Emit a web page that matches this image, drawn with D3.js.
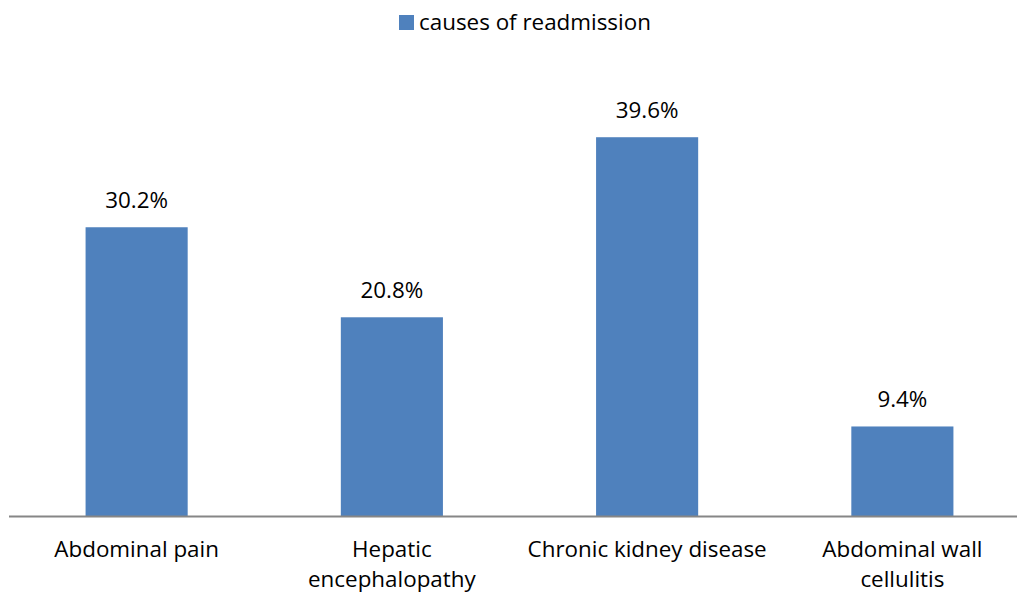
<!DOCTYPE html>
<html>
<head>
<meta charset="utf-8">
<script src="https://cdn.jsdelivr.net/npm/d3@7"></script>
<style>
  html, body { margin: 0; padding: 0; background: #fff; }
  svg { display: block; font-family: "Open Sans", sans-serif; }
</style>
</head>
<body>
<svg id="chart" width="1017" height="599"></svg>
<script>
// Causes of readmission (%)
const categories = ["Abdominal pain", "Hepatic encephalopathy", "Chronic kidney disease", "Abdominal wall cellulitis"];
const categoryLines = [["Abdominal pain"], ["Hepatic", "encephalopathy"], ["Chronic kidney disease"], ["Abdominal wall", "cellulitis"]];
const values = [30.2, 20.8, 39.6, 9.4];
const valueLabels = ["30.2%", "20.8%", "39.6%", "9.4%"];
const seriesName = "causes of readmission";

const W = 1017, H = 599;
const barColor = "#4F81BD";
const fontSize = 22.4;
const svg = d3.select("#chart");

const x = d3.scaleBand()
  .domain(categories)
  .range([9, 1030])
  .paddingInner(0.6)
  .paddingOuter(0.3);

const y = d3.scaleLinear()
  .domain([0, 45])
  .range([516.5, 85.5]);

// bars
svg.append("g").selectAll("rect")
  .data(categories)
  .join("rect")
  .attr("x", d => x(d))
  .attr("width", x.bandwidth())
  .attr("y", (d, i) => y(values[i]))
  .attr("height", (d, i) => y(0) - y(values[i]))
  .attr("fill", barColor);

// value labels
svg.append("g").selectAll("text")
  .data(categories)
  .join("text")
  .attr("x", d => x(d) + x.bandwidth() / 2)
  .attr("y", (d, i) => y(values[i]) - 19)
  .attr("text-anchor", "middle")
  .attr("font-size", fontSize)
  .attr("fill", "#000")
  .text((d, i) => valueLabels[i]);

// category axis
const axis = svg.append("g")
  .attr("transform", `translate(0,${y(0)})`)
  .call(d3.axisBottom(x).tickSize(0).tickFormat(""));
axis.select(".domain").remove();
axis.append("line")
  .attr("x1", 9).attr("x2", W)
  .attr("stroke", "#868686").attr("stroke-width", 2);

const catLabels = svg.append("g").selectAll("text")
  .data(categories)
  .join("text")
  .attr("x", d => x(d) + x.bandwidth() / 2)
  .attr("y", 557)
  .attr("text-anchor", "middle")
  .attr("font-size", fontSize)
  .attr("fill", "#000");
catLabels.each(function(d, i) {
  d3.select(this).selectAll("tspan")
    .data(categoryLines[i])
    .join("tspan")
    .attr("x", x(d) + x.bandwidth() / 2)
    .attr("dy", (t, j) => j === 0 ? 0 : 30)
    .text(t => t);
});

// legend
const legend = svg.append("g");
legend.append("rect")
  .attr("x", 399).attr("y", 15)
  .attr("width", 15).attr("height", 15)
  .attr("fill", barColor);
legend.append("text")
  .attr("x", 419).attr("y", 30)
  .attr("font-size", fontSize)
  .attr("fill", "#000")
  .text(seriesName);
</script>
</body>
</html>
